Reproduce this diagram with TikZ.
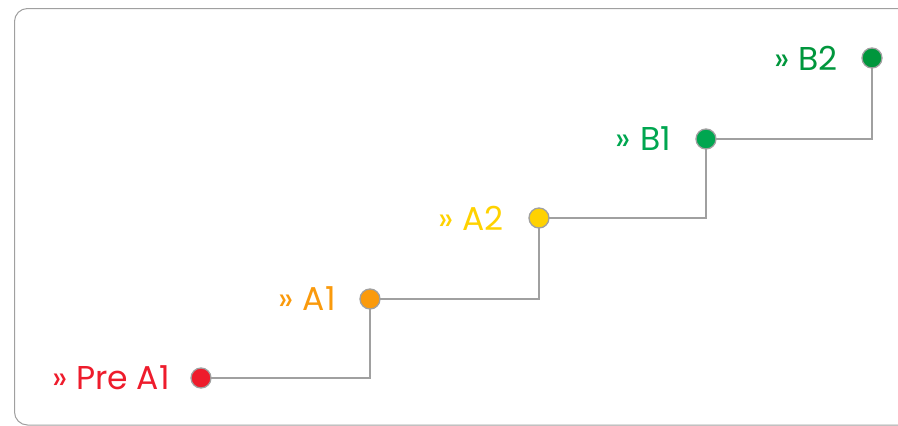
\documentclass[tikz,border=0pt]{standalone}
\usepackage{fontspec}
\setmainfont{Poppins}
\definecolor{cpre}{HTML}{EE1C2C}
\definecolor{ca1}{HTML}{FA9A0C}
\definecolor{ca2}{HTML}{FFD200}
\definecolor{cb1}{HTML}{00A650}
\definecolor{cb2}{HTML}{00963C}
\definecolor{edge}{HTML}{A0A0A0}
\begin{document}
\begin{tikzpicture}[x=1pt,y=-1pt,
  dot/.style={circle,draw=edge,line width=1.3pt,minimum size=20pt,inner sep=0pt},
  lvl/.style={anchor=east,inner sep=0pt,font=\fontsize{33}{35}\selectfont},
  conn/.style={draw=edge,line width=1.3pt}]
\useasboundingbox (0,0) rectangle (898,426);
\begin{scope}
\clip (0,0) rectangle (898,426);
\draw[draw=edge,line width=1pt,rounded corners=13pt] (14.5,8.5) rectangle (920,425);
\end{scope}
\coordinate (c1) at (370,378);
\coordinate (c2) at (539,299);
\coordinate (c3) at (706,218);
\coordinate (c4) at (872,139);
\draw[conn] (201,378) -- (c1) -- (370,299);
\draw[conn] (370,299) -- (c2) -- (539,218);
\draw[conn] (539,218) -- (c3) -- (706,139);
\draw[conn] (706,139) -- (c4) -- (872,58);
\node[dot,fill=cpre] (p) at (201,378) {};
\node[dot,fill=ca1] (a1) at (370,299) {};
\node[dot,fill=ca2] (a2) at (539,218) {};
\node[dot,fill=cb1] (b1) at (706,139) {};
\node[dot,fill=cb2] (b2) at (872,58) {};
\node[lvl,text=cpre] (tp) at (170,378) {» Pre A1};
\node[lvl,text=ca1] (ta1) at (336,299) {» A1};
\node[lvl,text=ca2] (ta2) at (504,218) {» A2};
\node[lvl,text=cb1] (tb1) at (671,139) {» B1};
\node[lvl,text=cb2] (tb2) at (838,58) {» B2};
\end{tikzpicture}
\end{document}
